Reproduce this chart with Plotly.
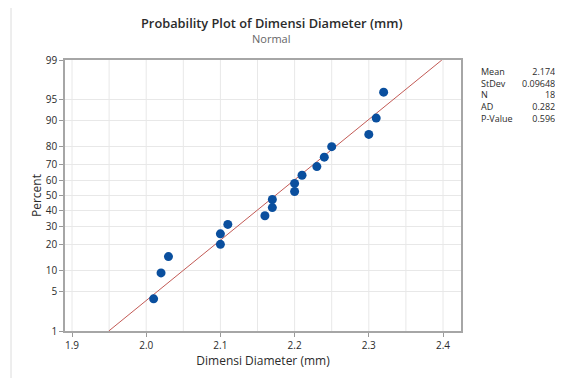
import plotly.graph_objects as go
from statistics import NormalDist

# ---- data ----
diameter = [2.01, 2.02, 2.03, 2.10, 2.10, 2.11, 2.16, 2.17, 2.17,
            2.20, 2.20, 2.21, 2.23, 2.24, 2.25, 2.30, 2.31, 2.32]
percent = [3.8, 9.2, 14.7, 20.1, 25.5, 31.0, 36.4, 41.8, 47.3,
           52.7, 58.2, 63.6, 69.0, 74.5, 79.9, 85.3, 90.8, 96.2]
percent_ticks = [1, 5, 10, 20, 30, 40, 50, 60, 70, 80, 90, 95, 99]
x_ticks = [1.9, 2.0, 2.1, 2.2, 2.3, 2.4]
stat_names = ["Mean", "StDev", "N", "AD", "P-Value"]
stat_values = ["2.174", "0.09648", "18", "0.282", "0.596"]
fit_mean = 2.174
fit_sd = 0.09648

nd = NormalDist()
z = [nd.inv_cdf(p / 100) for p in percent]
z_ticks = [nd.inv_cdf(p / 100) for p in percent_ticks]
z_lo, z_hi = nd.inv_cdf(0.01), nd.inv_cdf(0.99)

# page body has an 8px default margin; work in reference pixels, shift by OFF
OFF = 8
W, H = 563 - OFF, 378 - OFF
L, R, T, B = 65, 461, 60, 331   # plot box in reference pixels

FONT = "Open Sans"
TXT = "#2b2b2b"
fig = go.Figure()

# fitted line
fig.add_trace(go.Scatter(
    x=[fit_mean + fit_sd * z_lo, fit_mean + fit_sd * z_hi],
    y=[z_lo, z_hi], mode="lines",
    line=dict(color="#c25a55", width=1), hoverinfo="skip", showlegend=False))

fig.add_trace(go.Scatter(
    x=diameter, y=z, mode="markers",
    marker=dict(color="#0a4f9e", size=9, line=dict(width=0)),
    showlegend=False))

minor_grid = [1.9 + 0.05 * i for i in range(11)]

fig.update_xaxes(
    range=[1.9 - 7 / 742, 2.4 + 18 / 742],
    tickvals=x_ticks, ticktext=[f"{v:.1f}" for v in x_ticks],
    ticks="outside", ticklen=4, tickcolor="#999999",
    showgrid=False, zeroline=False, automargin=False,
    showline=True, linecolor="#a6a6a6", linewidth=1.5, mirror=True,
    tickfont=dict(family=FONT, size=10, color=TXT),
    title=dict(text="Dimensi Diameter (mm)", standoff=6,
               font=dict(family=FONT, size=12, color=TXT)))
fig.update_yaxes(
    range=[z_lo, z_hi],
    tickvals=z_ticks, ticktext=[str(p) for p in percent_ticks],
    ticks="outside", ticklen=4, tickcolor="#999999",
    gridcolor="#e8e8e8", gridwidth=1, zeroline=False, automargin=False,
    showline=True, linecolor="#a6a6a6", linewidth=1.5, mirror=True,
    tickfont=dict(family=FONT, size=10, color=TXT),
    title=dict(text="Percent", standoff=2,
               font=dict(family=FONT, size=12, color=TXT)))

px = lambda v: (v - L) / (R - L)
py = lambda v: (B - v) / (B - T)

shapes = []
for gx in minor_grid:
    shapes.append(dict(type="line", xref="x", yref="paper", x0=gx, x1=gx,
                       y0=0, y1=1, line=dict(color="#e8e8e8", width=1),
                       layer="below"))
# outer frame (left edge)
shapes.append(dict(type="line", xref="paper", yref="paper",
                   x0=px(11), x1=px(11), y0=py(4), y1=py(400),
                   line=dict(color="#dcdcdc", width=1)))

annotations = [
    dict(text="Probability Plot of Dimensi Diameter (mm)", xref="paper", yref="paper",
         x=px(271), y=py(23), xanchor="center", yanchor="middle", showarrow=False,
         font=dict(family=FONT, size=12.8, color=TXT, weight=600)),
    dict(text="Normal", xref="paper", yref="paper",
         x=px(271), y=py(39), xanchor="center", yanchor="middle", showarrow=False,
         font=dict(family=FONT, size=11, color="#666666")),
    # stats table: names column and values column
    dict(text="<br>".join(stat_names), xref="paper", yref="paper",
         x=px(479), y=py(95), xanchor="left", yanchor="middle", align="left",
         showarrow=False, font=dict(family=FONT, size=9, color=TXT)),
    dict(text="<br>".join(stat_values), xref="paper", yref="paper",
         x=px(557), y=py(95), xanchor="right", yanchor="middle", align="right",
         showarrow=False, font=dict(family=FONT, size=9, color=TXT)),
]

fig.update_layout(
    width=W, height=H,
    margin=dict(l=L - OFF, r=(563 - R), t=T - OFF, b=(378 - B)),
    paper_bgcolor="white", plot_bgcolor="white",
    shapes=shapes, annotations=annotations,
    font=dict(family=FONT),
)

fig.write_html("out.html")
